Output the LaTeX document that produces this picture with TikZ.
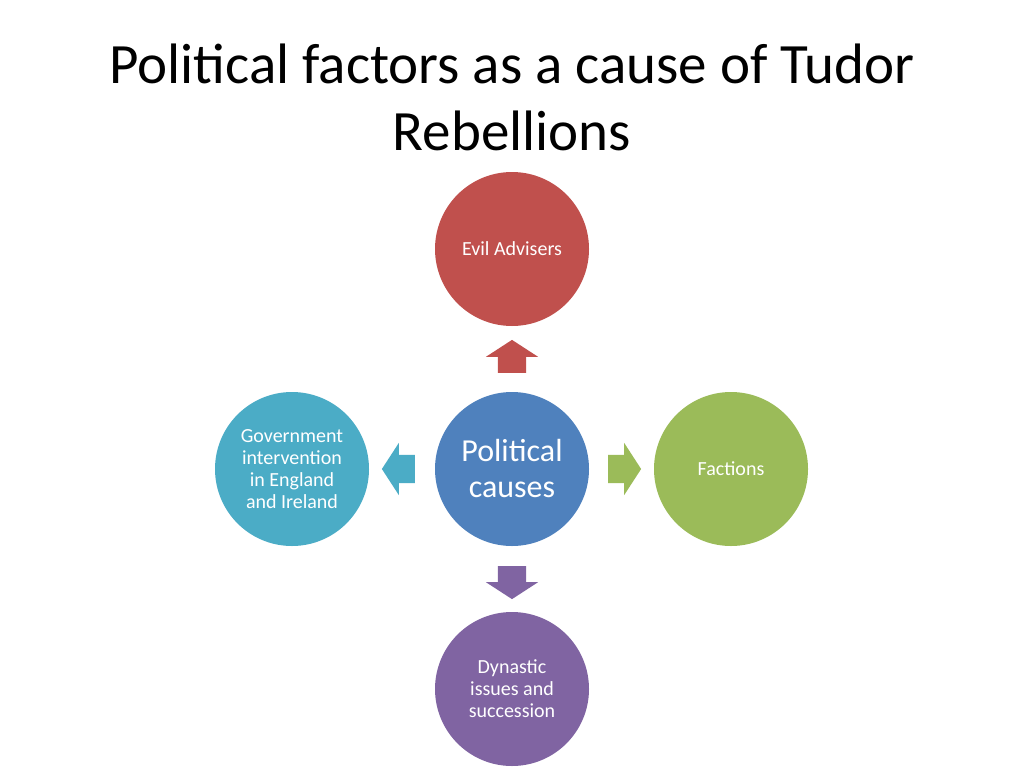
\documentclass[tikz,border=0pt]{standalone}
\usepackage{fontspec}
\setmainfont{Carlito}
\usetikzlibrary{positioning,shapes.arrows}
\definecolor{cred}{HTML}{C0504D}
\definecolor{cblue}{HTML}{4F81BD}
\definecolor{cgreen}{HTML}{9BBB59}
\definecolor{cpurple}{HTML}{8064A2}
\definecolor{caqua}{HTML}{4BACC6}
\tikzset{
  cause/.style={circle,minimum size=154pt,inner sep=0pt,text=white,align=center,
    font=\fontsize{20}{22}\selectfont},
  blockarrow/.style={single arrow,minimum height=33pt,inner xsep=0pt,inner ysep=14pt,
    single arrow head extend=12pt,single arrow tip angle=114}
}
\begin{document}
\begin{tikzpicture}[x=1pt,y=-1pt]
    \useasboundingbox[fill=white] (0,0) rectangle (1024,768);

    % title
    \node[align=center,font=\fontsize{57}{67}\selectfont] (title) at (512,97)
      {Political factors as a cause of Tudor\\Rebellions};

    % circles
    \node[cause,fill=cblue,font=\fontsize{32}{36}\selectfont] (centre) at (512,469) {Political\\causes};
    \node[cause,fill=cred] (evil) at (512,249) {Evil Advisers};
    \node[cause,fill=caqua] (gov) at (292,469) {Government\\intervention\\in England\\and Ireland};
    \node[cause,fill=cgreen] (fac) at (731,469) {Factions};
    \node[cause,fill=cpurple] (dyn) at (512,689) {Dynastic\\issues and\\succession};

    % arrows
    \node[blockarrow,fill=cred,rotate=90] (aup) at (512,361) {};
    \node[blockarrow,fill=caqua,rotate=180] (aleft) at (403,469) {};
    \node[blockarrow,fill=cgreen] (aright) at (620,469) {};
    \node[blockarrow,fill=cpurple,rotate=-90] (adown) at (512,578) {};
\end{tikzpicture}
\end{document}
